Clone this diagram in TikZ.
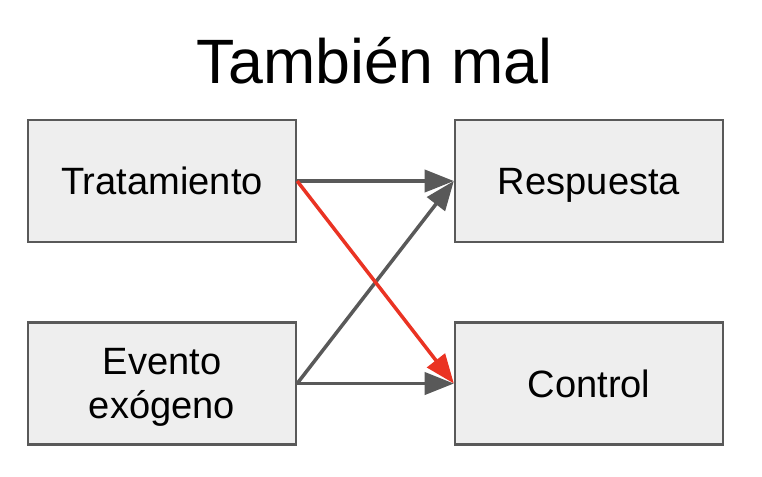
\documentclass[tikz,border=0pt]{standalone}
\usepackage{fontspec}
\setmainfont{Liberation Sans}
\usepackage{xcolor}
\usetikzlibrary{arrows.meta, positioning}

\definecolor{boxfill}{HTML}{EEEEEE}
\definecolor{boxline}{HTML}{595959}
\definecolor{redarrow}{HTML}{EA3323}

\begin{document}
\begin{tikzpicture}[x=0.03cm, y=-0.03cm,
    boxbase/.style={draw=boxline, fill=boxfill, line width=2pt, minimum width=268*0.03cm, minimum height=122*0.03cm, inner sep=0pt, align=center, font=\fontsize{32.5}{38}\selectfont},
    varbox/.style={boxbase, text height=23.4pt, text depth=0pt},
    link/.style={draw=boxline, line width=3pt, -{Triangle[length=25pt, width=19pt]}},
    badlink/.style={link, draw=redarrow, fill=redarrow}]
\useasboundingbox (0,0) rectangle (762,476);

\node[anchor=base, font=\fontsize{53.5}{60}\selectfont] (title) at (374.5,83) {También mal};

\node[varbox] (trat) at (162,181) {Tratamiento};
\node[varbox] (resp) at (589,181) {Respuesta};
\node[boxbase, text depth=0pt] (evento) at (162,383.5) {Evento\\exógeno};
\node[varbox] (ctrl) at (589,383.5) {Control};

\draw[link] (trat.east) -- (resp.west);
\draw[link] (evento.east) -- (resp.west);
\draw[link] (evento.east) -- (ctrl.west);
\draw[badlink] (trat.east) -- (ctrl.west);
\end{tikzpicture}
\end{document}
